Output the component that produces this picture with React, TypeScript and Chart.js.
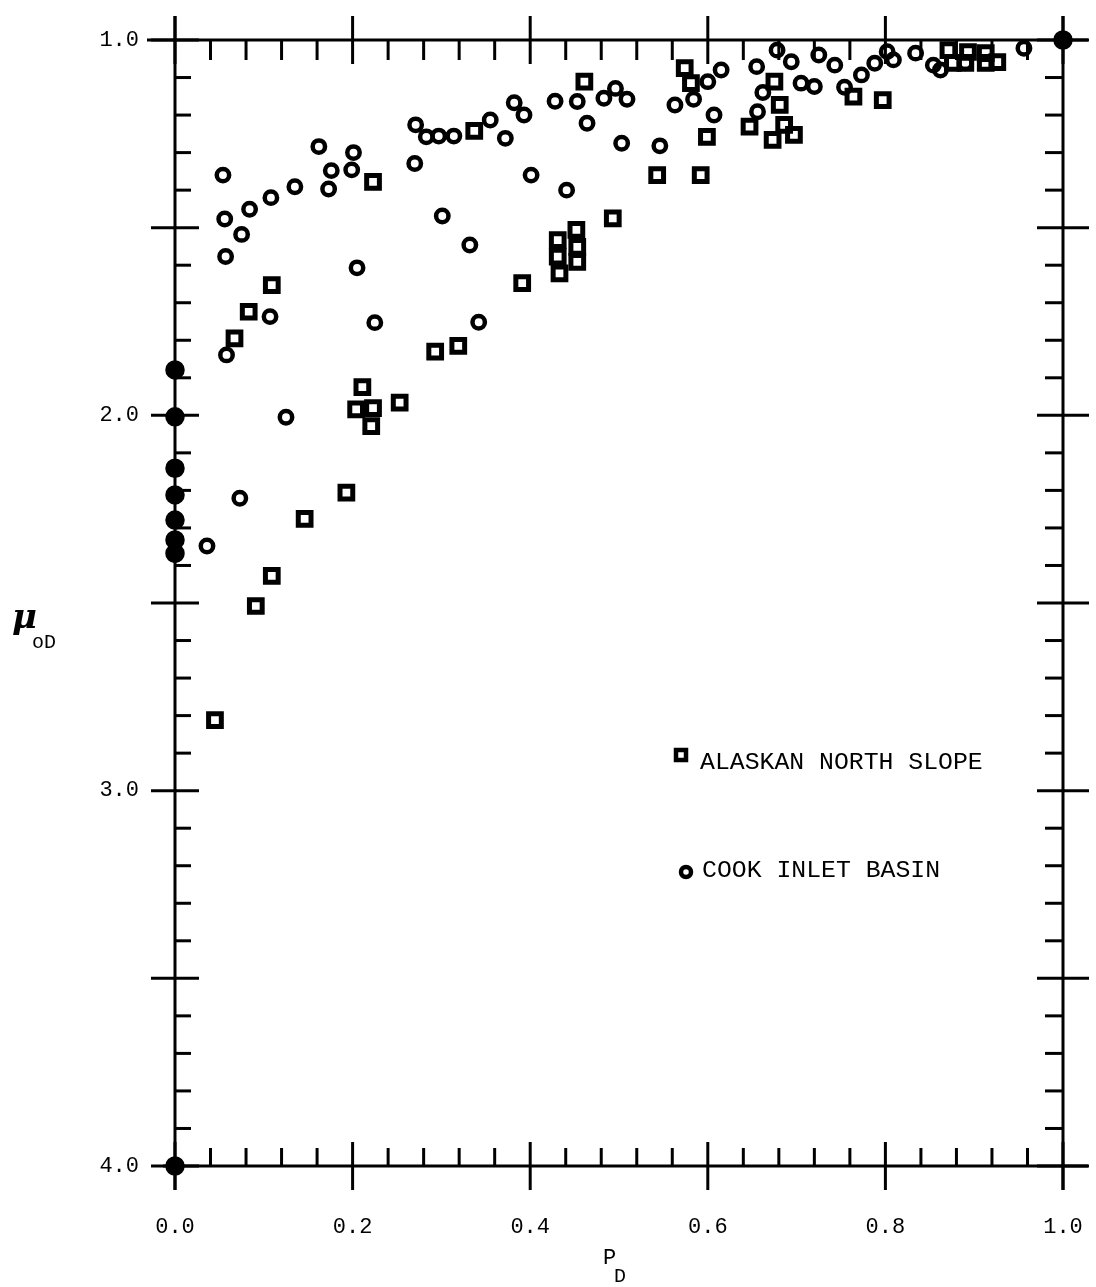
import React, { useEffect, useRef } from "react";
import { Chart, registerables } from "chart.js";

Chart.register(...registerables);

// Reduced pressure p_D (x) and reduced dead-oil viscosity mu_oD (y)
const northSlopeP = [
  0.461, 0.223, 0.493, 0.431, 0.431, 0.452, 0.453, 0.453, 0.433, 0.391,
  0.109, 0.083, 0.337, 0.574, 0.581, 0.599, 0.543, 0.592, 0.675, 0.681,
  0.647, 0.673, 0.686, 0.697, 0.764, 0.797, 0.871, 0.893, 0.913, 0.926,
  0.913, 0.890, 0.876, 0.067, 0.293, 0.319, 0.211, 0.204, 0.223, 0.221,
  0.253, 0.193, 0.146, 0.109, 0.091, 0.045,
];
const northSlopeMu = [
  1.111, 1.378, 1.475, 1.533, 1.577, 1.506, 1.551, 1.591, 1.622, 1.648,
  1.653, 1.724, 1.242, 1.075, 1.115, 1.258, 1.360, 1.360, 1.111, 1.173,
  1.231, 1.266, 1.226, 1.253, 1.151, 1.160, 1.027, 1.032, 1.035, 1.059,
  1.061, 1.061, 1.061, 1.795, 1.830, 1.815, 1.925, 1.984, 1.981, 2.029,
  1.966, 2.206, 2.276, 2.428, 2.508, 2.812,
];

const cookInletP = [
  0.054, 0.056, 0.075, 0.057, 0.084, 0.108, 0.135, 0.162, 0.176, 0.173,
  0.201, 0.199, 0.270, 0.271, 0.283, 0.297, 0.314, 0.355, 0.372, 0.382,
  0.393, 0.428, 0.453, 0.464, 0.483, 0.496, 0.509, 0.401, 0.441, 0.301,
  0.332, 0.205, 0.107, 0.225, 0.342, 0.503, 0.546, 0.563, 0.584, 0.600,
  0.615, 0.607, 0.655, 0.662, 0.656, 0.678, 0.694, 0.705, 0.720, 0.725,
  0.743, 0.754, 0.773, 0.788, 0.802, 0.809, 0.834, 0.854, 0.862, 0.890,
  0.956, 1.000, 0.058, 0.125, 0.073, 0.036, 0.000, 0.000, 0.000, 0.000,
  0.000, 0.000, 0.000, 0.000,
];
const cookInletMu = [
  1.360, 1.477, 1.518, 1.577, 1.451, 1.420, 1.391, 1.284, 1.348, 1.397,
  1.300, 1.346, 1.329, 1.226, 1.258, 1.256, 1.256, 1.213, 1.262, 1.167,
  1.200, 1.163, 1.164, 1.222, 1.155, 1.129, 1.158, 1.360, 1.400, 1.469,
  1.546, 1.607, 1.737, 1.753, 1.752, 1.275, 1.282, 1.173, 1.158, 1.111,
  1.080, 1.200, 1.071, 1.140, 1.191, 1.027, 1.058, 1.115, 1.124, 1.040,
  1.067, 1.126, 1.093, 1.062, 1.031, 1.053, 1.035, 1.067, 1.080, 1.061,
  1.022, 1.000, 1.839, 2.005, 2.221, 2.348, 1.879, 2.004, 2.141, 2.212,
  2.279, 2.332, 2.368, 4.000,
];

const seriesNames = ["ALASKAN NORTH SLOPE", "COOK INLET BASIN"];
const xTitle = ["P", "D"];
const yTitle = ["\u03bc", "oD"];

const X_MIN = 0;
const X_MAX = 1;
const X_MAJOR = 0.2;
const X_MINOR = 0.04;
const Y_MIN = 1;
const Y_MAX = 4;
const Y_MAJOR = 0.5;
const Y_MINOR = 0.1;

const MONO = '"Liberation Mono", "DejaVu Sans Mono", monospace';
const INK = "#000";

const toPoints = (xs: number[], ys: number[]) => xs.map((x, i) => ({ x, y: ys[i] }));

// Frame with crossing major ticks and inward minor ticks on all four sides
const framePlugin = {
  id: "frame",
  beforeDatasetsDraw(chart: any) {
    const { ctx, chartArea: a, scales } = chart;
    const xs = scales.x;
    const ys = scales.y;
    ctx.save();
    ctx.strokeStyle = INK;
    ctx.lineWidth = 3;
    ctx.lineCap = "butt";
    const seg = (x1: number, y1: number, x2: number, y2: number) => {
      ctx.beginPath();
      ctx.moveTo(x1, y1);
      ctx.lineTo(x2, y2);
      ctx.stroke();
    };
    seg(a.left - 28, a.top, a.right + 25, a.top);
    seg(a.left - 12, a.bottom, a.right + 25, a.bottom);
    seg(a.left, a.top - 24, a.left, a.bottom + 24);
    seg(a.right, a.top - 24, a.right, a.bottom + 24);

    const nx = Math.round((X_MAX - X_MIN) / X_MINOR);
    const perMajorX = Math.round(X_MAJOR / X_MINOR);
    for (let i = 0; i <= nx; i++) {
      const px = xs.getPixelForValue(X_MIN + i * X_MINOR);
      const major = i % perMajorX === 0;
      if (major) {
        seg(px, a.top - 24, px, a.top + 24);
        seg(px, a.bottom - 24, px, a.bottom + 24);
      } else {
        seg(px, a.top, px, a.top + 20);
        seg(px, a.bottom, px, a.bottom - 18);
      }
    }
    const ny = Math.round((Y_MAX - Y_MIN) / Y_MINOR);
    const perMajorY = Math.round(Y_MAJOR / Y_MINOR);
    for (let i = 0; i <= ny; i++) {
      const py = ys.getPixelForValue(Y_MIN + i * Y_MINOR);
      const major = i % perMajorY === 0;
      if (major) {
        seg(a.left - 24, py, a.left + 24, py);
        seg(a.right - 26, py, a.right + 26, py);
      } else {
        seg(a.left, py, a.left + 16, py);
        seg(a.right, py, a.right - 18, py);
      }
    }
    ctx.restore();
  },
  afterDraw(chart: any) {
    const { ctx } = chart;
    ctx.save();
    ctx.fillStyle = INK;
    ctx.strokeStyle = INK;

    // axis titles
    ctx.textBaseline = "alphabetic";
    ctx.textAlign = "left";
    ctx.font = 'italic bold 34px "DejaVu Serif", serif';
    ctx.fillText(yTitle[0], 12, 628);
    ctx.font = `20px ${MONO}`;
    ctx.fillText(yTitle[1], 32, 648);

    ctx.font = `22px ${MONO}`;
    ctx.fillText(xTitle[0], 603, 1264);
    ctx.font = `20px ${MONO}`;
    ctx.fillText(xTitle[1], 614, 1282);

    // legend
    ctx.lineWidth = 4.5;
    ctx.strokeRect(676, 750, 10, 10);
    ctx.beginPath();
    ctx.arc(686, 872, 5, 0, Math.PI * 2);
    ctx.stroke();
    ctx.font = `24.8px ${MONO}`;
    ctx.textBaseline = "middle";
    ctx.fillText(seriesNames[0], 700, 762);
    ctx.fillText(seriesNames[1], 702, 870);
    ctx.restore();
  },
};

export default function App() {
  const canvasRef = useRef<HTMLCanvasElement | null>(null);

  useEffect(() => {
    const canvas = canvasRef.current;
    if (!canvas) return;

    const onEdge = (c: any) => {
      const v = c.raw;
      return v && (v.x <= X_MIN || v.x >= X_MAX || v.y >= Y_MAX);
    };

    const chart = new Chart(canvas, {
      type: "scatter",
      data: {
        datasets: [
          {
            label: seriesNames[0],
            data: toPoints(northSlopeP, northSlopeMu),
            pointStyle: "rect",
            pointRadius: 9,
            borderWidth: 5,
            borderColor: INK,
            backgroundColor: "rgba(0,0,0,0)",
            clip: false,
          },
          {
            label: seriesNames[1],
            data: toPoints(cookInletP, cookInletMu),
            pointStyle: "circle",
            pointRadius: (c: any) => (onEdge(c) ? 7.5 : 6.2),
            borderWidth: 4.5,
            borderColor: INK,
            backgroundColor: (c: any) => (onEdge(c) ? INK : "rgba(0,0,0,0)"),
            clip: false,
          } as any,
        ],
      },
      options: {
        responsive: false,
        animation: false,
        layout: { padding: { left: 0, right: 33, top: 40, bottom: 0 } },
        plugins: {
          legend: { display: false },
          tooltip: { enabled: false },
        },
        scales: {
          x: {
            type: "linear",
            min: X_MIN,
            max: X_MAX,
            grid: { display: false, drawTicks: false },
            border: { display: false },
            ticks: {
              stepSize: X_MAJOR,
              padding: 48,
              color: INK,
              font: { family: MONO, size: 22 },
              callback: (v: any) => Number(v).toFixed(1),
            },
            afterFit: (s: any) => {
              s.height = 121;
              s.paddingLeft = 0;
              s.paddingRight = 0;
            },
          },
          y: {
            type: "linear",
            min: Y_MIN,
            max: Y_MAX,
            reverse: true,
            grid: { display: false, drawTicks: false },
            border: { display: false },
            ticks: {
              stepSize: 1,
              padding: 36,
              color: INK,
              font: { family: MONO, size: 22 },
              callback: (v: any) => Number(v).toFixed(1),
            },
            afterFit: (s: any) => {
              s.width = 175;
              s.paddingTop = 0;
              s.paddingBottom = 0;
            },
          },
        },
      },
      plugins: [framePlugin],
    } as any);

    return () => chart.destroy();
  }, []);

  return (
    <div style={{ position: "absolute", left: 0, top: 0, width: 1096, height: 1287, background: "#fff" }}>
      <canvas ref={canvasRef} width={1096} height={1287} style={{ display: "block" }} />
    </div>
  );
}
